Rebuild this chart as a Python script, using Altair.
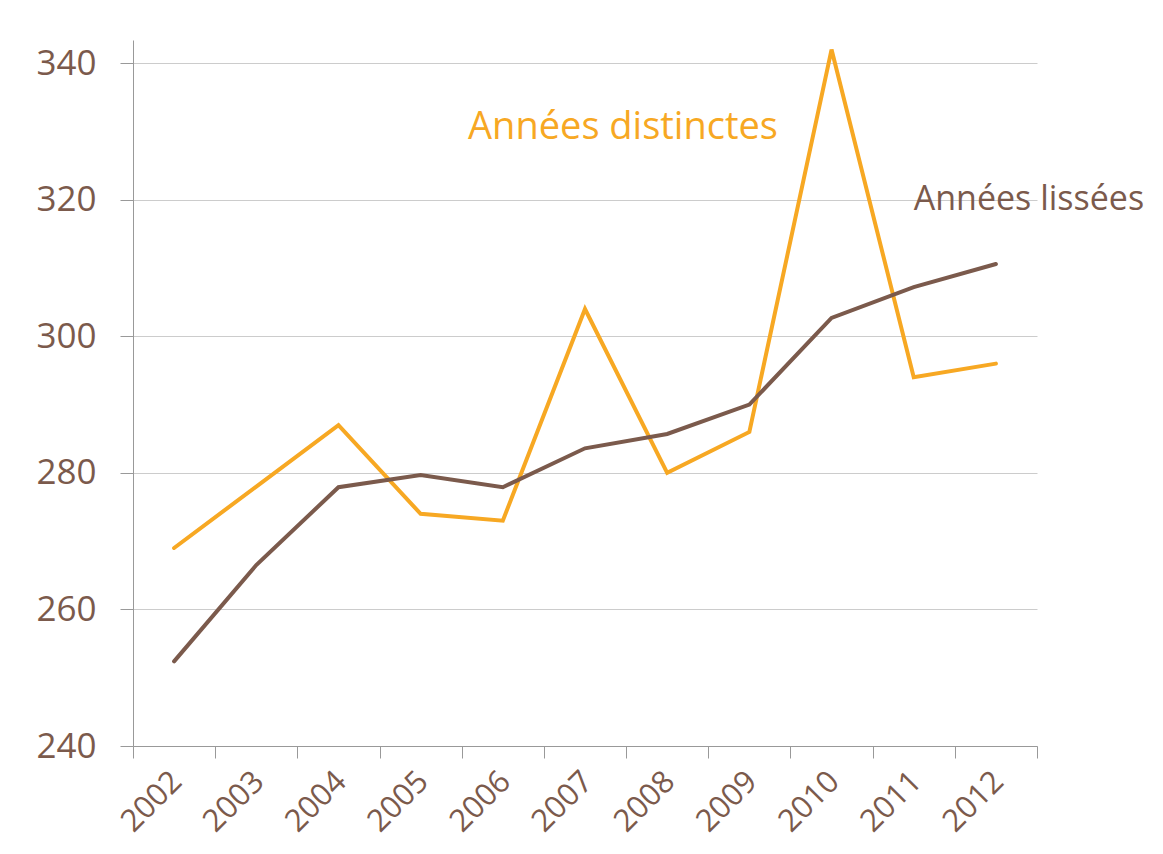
import altair as alt
import pandas as pd

years = ["2002", "2003", "2004", "2005", "2006", "2007", "2008", "2009", "2010", "2011", "2012"]
distinctes = [269, 278, 287, 274, 273, 304, 280, 286, 342, 294, 296]
lissees = [252.4, 266.5, 277.9, 279.7, 277.9, 283.6, 285.7, 290.0, 302.7, 307.2, 310.6]

series_names = ["Années distinctes", "Années lissées"]
series_colors = ["#f7a823", "#7b5a4c"]

rows = []
for y, v in zip(years, distinctes):
    rows.append({"year": y, "value": v, "series": series_names[0]})
for y, v in zip(years, lissees):
    rows.append({"year": y, "value": v, "series": series_names[1]})
df = pd.DataFrame(rows)

label_df = pd.DataFrame([
    {"year": "2007", "value": 330.5, "text": series_names[0], "series": series_names[0]},
    {"year": "2011", "value": 320.0, "text": series_names[1], "series": series_names[1]},
])

FONT = "Open Sans"
TXT = "#7b5a4c"

x_enc = alt.X("year:O", sort=years, bandPosition=0.5,
              scale=alt.Scale(type="band", domain=years, paddingInner=0, paddingOuter=0),
              axis=alt.Axis(title=None, labelAngle=-45, tickBand="extent", tickSize=12,
                            labelFontSize=31, labelColor=TXT, labelFont=FONT, labelPadding=8,
                            labelOffset=-8,
                            domainColor="#999999", tickColor="#999999", grid=False))
y_scale = alt.Scale(domain=[240, 343.4], nice=False, zero=False)
color_scale = alt.Scale(domain=series_names, range=series_colors)

lines = alt.Chart(df).mark_line(strokeWidth=4, strokeJoin="miter", strokeCap="round").encode(
    x=x_enc,
    y=alt.Y("value:Q", scale=y_scale,
            axis=alt.Axis(title=None, values=[240, 260, 280, 300, 320, 340], tickSize=13,
                          labelFontSize=35, labelColor=TXT, labelFont=FONT, labelPadding=24,
                          domainColor="#999999", tickColor="#999999",
                          gridColor="#cccccc", grid=True)),
    color=alt.Color("series:N", scale=color_scale, legend=None),
    detail="series:N",
)

lab1 = alt.Chart(label_df[label_df["series"] == series_names[0]]).mark_text(
    fontSize=38, font=FONT, align="center", baseline="middle", dx=38, color=series_colors[0]
).encode(x=alt.X("year:O", sort=years, bandPosition=0.5), y=alt.Y("value:Q", scale=y_scale), text="text:N")

lab2 = alt.Chart(label_df[label_df["series"] == series_names[1]]).mark_text(
    fontSize=34, font=FONT, align="left", baseline="middle", dx=0, color=series_colors[1]
).encode(x=alt.X("year:O", sort=years, bandPosition=0.5), y=alt.Y("value:Q", scale=y_scale), text="text:N")

chart = alt.layer(lines, lab1, lab2).properties(
    width=904, height=706,
    autosize=alt.AutoSizeParams(type="none"),
    padding={"left": 125, "top": 32, "right": 118, "bottom": 100},
).configure_view(stroke=None)

chart.save("out.html", embed_options={"renderer": "svg", "actions": False})
